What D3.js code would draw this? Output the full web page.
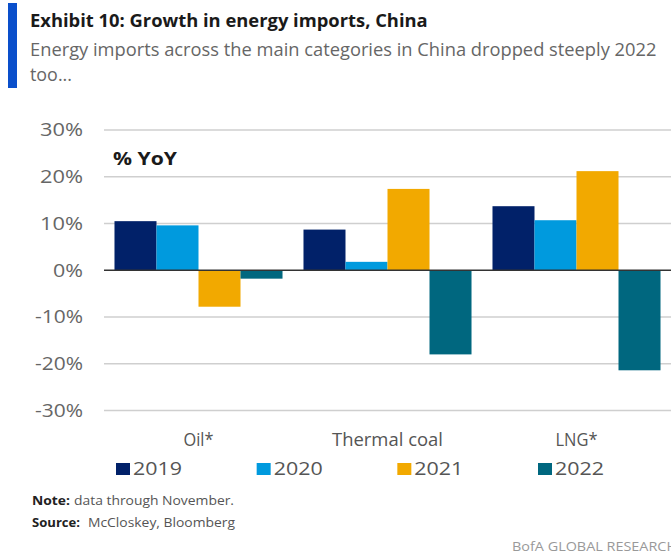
<!DOCTYPE html>
<html>
<head>
<meta charset="utf-8">
<script src="https://cdn.jsdelivr.net/npm/d3@7"></script>
<style>
  html, body { margin: 0; padding: 0; background: #fff; }
  svg { display: block; font-family: "Open Sans", "Liberation Sans", sans-serif; }
</style>
</head>
<body>
<svg id="chart" width="671" height="557"></svg>
<script>
// Energy import growth by category, % year on year
const categories = ["Oil*", "Thermal coal", "LNG*"];
const years = ["2019", "2020", "2021", "2022"];
const growth2019 = [10.5, 8.7, 13.7];
const growth2020 = [9.6, 1.8, 10.7];
const growth2021 = [-7.8, 17.4, 21.2];
const growth2022 = [-1.8, -18.0, -21.4];
const yTicks = [-30, -20, -10, 0, 10, 20, 30];
const seriesColors = ["#012169", "#009ADE", "#F2A900", "#00677F"];

const seriesValues = [growth2019, growth2020, growth2021, growth2022];

const svg = d3.select("#chart");

// stretch or squeeze a text run to a given advance width
function fit(sel, w) {
  sel.attr("textLength", w).attr("lengthAdjust", "spacingAndGlyphs");
  return sel;
}

// place a text at (x, y) and scale it horizontally to width w
function scaledText(x, yPos, w, str, attrs) {
  const g = svg.append("g");
  const t = g.append("text").text(str);
  Object.entries(attrs).forEach(([k, v]) => t.attr(k, v));
  const natural = t.node().getComputedTextLength();
  g.attr("transform", `translate(${x},${yPos}) scale(${w / natural},1)`);
  return t;
}

// header: accent bar, title and subtitle
svg.append("rect").attr("x", 8).attr("y", 3).attr("width", 9).attr("height", 85).attr("fill", "#0A4FCB");
scaledText(30, 27, 398, "Exhibit 10: Growth in energy imports, China",
  { "font-size": 18, "font-weight": 700, fill: "#1a1a1a" });
scaledText(30, 56, 627, "Energy imports across the main categories in China dropped steeply 2022",
  { "font-size": 19, fill: "#666" });
scaledText(30, 81, 42, "too...", { "font-size": 19, fill: "#666" });

// scales
const x0 = d3.scaleBand().domain(categories).range([104, 671]).paddingInner(0.111).paddingOuter(0.0555);
const x1 = d3.scaleBand().domain(years).range([0, x0.bandwidth()]);
const y = d3.scaleLinear().domain([-30, 30]).range([410.5, 130]);

// gridlines
svg.append("g").selectAll("line").data(yTicks.filter(t => t !== 0)).join("line")
  .attr("x1", 104).attr("x2", 671)
  .attr("y1", d => y(d)).attr("y2", d => y(d))
  .attr("stroke", "#cfcfcf").attr("stroke-width", 1.5);

// y axis labels
const yAxis = d3.axisLeft(y).tickValues(yTicks).tickFormat(d => d + "%").tickSize(0).tickPadding(0);
const ya = svg.append("g").attr("transform", "translate(83,0)").call(yAxis);
ya.select(".domain").remove();
ya.selectAll("text").attr("font-size", 18).attr("fill", "#666").attr("font-family", "Open Sans, sans-serif")
  .each(function (d) { fit(d3.select(this), d < 0 ? 48 : (d === 0 ? 30 : 43)); });

// unit label
fit(svg.append("text").attr("x", 113).attr("y", 165).attr("font-size", 18).attr("font-weight", 700)
  .attr("fill", "#1a1a1a").text("% YoY"), 64);

// bars
const groups = svg.append("g").selectAll("g").data(categories).join("g")
  .attr("transform", c => `translate(${x0(c)},0)`);
groups.selectAll("rect")
  .data((c, ci) => years.map((yr, si) => ({ yr, si, v: seriesValues[si][ci] })))
  .join("rect")
  .attr("x", d => x1(d.yr))
  .attr("width", x1.bandwidth())
  .attr("y", d => y(Math.max(0, d.v)))
  .attr("height", d => Math.abs(y(d.v) - y(0)))
  .attr("fill", d => seriesColors[d.si]);

// zero line
svg.append("line").attr("x1", 104).attr("x2", 671).attr("y1", y(0)).attr("y2", y(0))
  .attr("stroke", "#333").attr("stroke-width", 1.5);

// category labels
const catWidths = [30, 111, 42];
svg.append("g").selectAll("text").data(categories).join("text")
  .attr("x", c => x0(c) + x0.bandwidth() / 2 - catWidths[categories.indexOf(c)] / 2)
  .attr("y", 446).attr("font-size", 18).attr("fill", "#555")
  .text(c => c)
  .each(function (c, i) { fit(d3.select(this), catWidths[i]); });

// legend
const legendX = d3.scalePoint().domain(years).range([116, 538]);
const lg = svg.append("g").selectAll("g").data(years).join("g")
  .attr("transform", yr => `translate(${legendX(yr)},463)`);
lg.append("rect").attr("width", 14).attr("height", 12).attr("fill", (yr, i) => seriesColors[i]);
lg.append("text").attr("x", 17).attr("y", 12).attr("font-size", 19).attr("fill", "#555")
  .text(yr => yr).each(function () { fit(d3.select(this), 49); });

// notes
fit(svg.append("text").attr("x", 32).attr("y", 505).attr("font-size", 13).attr("font-weight", 700)
  .attr("fill", "#222").text("Note:"), 38);
fit(svg.append("text").attr("x", 74).attr("y", 505).attr("font-size", 13).attr("fill", "#555")
  .text("data through November."), 160);
fit(svg.append("text").attr("x", 32).attr("y", 527).attr("font-size", 13).attr("font-weight", 700)
  .attr("fill", "#222").text("Source:"), 48);
fit(svg.append("text").attr("x", 88).attr("y", 527).attr("font-size", 13).attr("fill", "#555")
  .text("McCloskey, Bloomberg"), 147);

// footer
fit(svg.append("text").attr("x", 512).attr("y", 551).attr("font-size", 13).attr("fill", "#999")
  .text("BofA GLOBAL RESEARCH"), 165);
</script>
</body>
</html>
